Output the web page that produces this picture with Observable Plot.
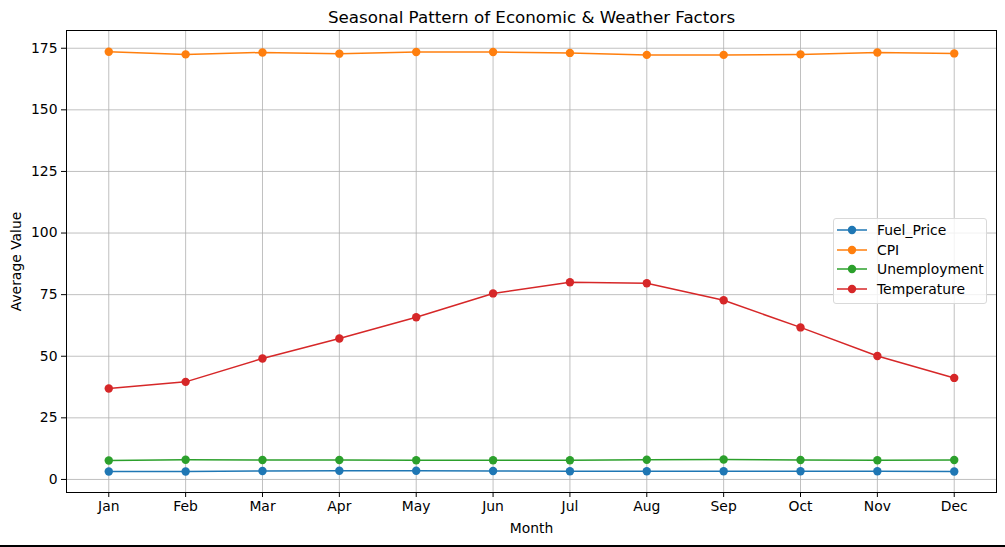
<!DOCTYPE html>
<html>
<head>
<meta charset="utf-8">
<script src="https://cdn.jsdelivr.net/npm/d3@7"></script>
<script src="https://cdn.jsdelivr.net/npm/@observablehq/plot@0.6"></script>
<style>
  body { margin: 0; background: #fff; font-family: "DejaVu Sans", sans-serif; }
  #wrap { position: relative; width: 1005px; height: 545px; }
  #bar { width: 1005px; height: 2px; background: #000; }
  #legend { position: absolute; left: 833px; top: 218px; width: 154px; height: 86px;
    border: 1px solid #d9d9d9; border-radius: 3px; background: rgba(255,255,255,0.8);
    box-sizing: border-box; font-size: 13.9px; color: #000; }
  .item { position: absolute; left: 3px; height: 20px; display: flex; align-items: center; }
  .item span { margin-left: 10px; }
</style>
</head>
<body>
<div id="wrap"><div id="chart"></div><div id="legend"></div></div>
<div id="bar"></div>
<script>
const months = ["Jan","Feb","Mar","Apr","May","Jun","Jul","Aug","Sep","Oct","Nov","Dec"];
const seriesNames = ["Fuel_Price","CPI","Unemployment","Temperature"];
const colors = ["#1f77b4","#ff7f0e","#2ca02c","#d62728"];
const fuelPrice = [3.2, 3.2, 3.4, 3.5, 3.5, 3.4, 3.3, 3.3, 3.3, 3.3, 3.3, 3.2];
const cpi = [173.6, 172.5, 173.3, 172.8, 173.5, 173.5, 173.1, 172.3, 172.3, 172.5, 173.3, 172.9];
const unemployment = [7.7, 8.0, 7.9, 7.9, 7.8, 7.8, 7.8, 8.0, 8.1, 7.9, 7.8, 7.9];
const temperature = [36.9, 39.6, 49.1, 57.2, 65.8, 75.5, 80.0, 79.6, 72.7, 61.7, 50.1, 41.2];
const yTicks = [0, 25, 50, 75, 100, 125, 150, 175];

const seriesValues = [fuelPrice, cpi, unemployment, temperature];
const rows = [];
seriesNames.forEach((s, i) => months.forEach((m, j) => rows.push({series: s, month: m, value: seriesValues[i][j]})));

const font = "DejaVu Sans, sans-serif";
const chart = Plot.plot({
  width: 1005, height: 545,
  marginLeft: 66, marginRight: 9, marginTop: 30, marginBottom: 53,
  style: {fontFamily: font, fontSize: "13.9px", color: "#000", background: "#fff"},
  x: {type: "point", domain: months, padding: 0.55, round: false},
  y: {domain: [-5.3, 182.2]},
  color: {domain: seriesNames, range: colors},
  marks: [
    Plot.gridX(months, {stroke: "#b0b0b0", strokeOpacity: 1, strokeWidth: 0.8}),
    Plot.gridY(yTicks, {stroke: "#b0b0b0", strokeOpacity: 1, strokeWidth: 0.8}),
    Plot.line(rows, {x: "month", y: "value", z: "series", stroke: "series", strokeWidth: 1.5}),
    Plot.dot(rows, {x: "month", y: "value", fill: "series", r: 4.2}),
    Plot.frame({stroke: "#000", strokeWidth: 1}),
    Plot.axisX({tickSize: 5, tickPadding: 4, label: null, fontSize: 13.9}),
    Plot.axisY(yTicks, {tickSize: 5, tickPadding: 4, label: null, fontSize: 13.9}),
    Plot.text(["Seasonal Pattern of Economic & Weather Factors"], {frameAnchor: "top", lineAnchor: "middle", dy: -13, fontSize: 16.7}),
    Plot.text(["Month"], {frameAnchor: "bottom", lineAnchor: "middle", dy: 36, fontSize: 13.9}),
    Plot.text(["Average Value"], {frameAnchor: "left", textAnchor: "middle", lineAnchor: "middle", dx: -50, rotate: -90, fontSize: 13.9})
  ]
});
document.getElementById("chart").appendChild(chart);

const legend = document.getElementById("legend");
const tops = [1, 20.5, 40, 59.5];
seriesNames.forEach((s, i) => {
  const d = document.createElement("div");
  d.className = "item";
  d.style.top = tops[i] + "px";
  d.innerHTML = `<svg width="30" height="12"><line x1="0" y1="6" x2="30" y2="6" stroke="${colors[i]}" stroke-width="1.5"/><circle cx="15" cy="6" r="4.2" fill="${colors[i]}"/></svg><span>${s}</span>`;
  legend.appendChild(d);
});
</script>
</body>
</html>
